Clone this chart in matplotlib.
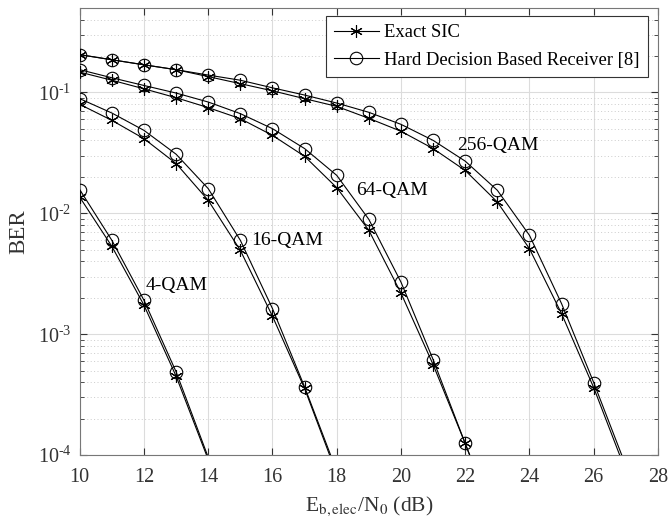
import matplotlib
matplotlib.use("Agg")
import matplotlib.pyplot as plt
import numpy as np
from matplotlib.lines import Line2D
from matplotlib.ticker import FuncFormatter, LogLocator, NullFormatter

plt.rcParams["font.family"] = ["Liberation Serif", "DejaVu Serif"]
plt.rcParams["mathtext.fontset"] = "stix"

# Eb,elec/N0 in dB for each modulation order
snr_4 = np.arange(10, 15)
snr_16 = np.arange(10, 19)
snr_64 = np.arange(10, 24)
snr_256 = np.arange(10, 28)

# BER, exact SIC
ber_sic_4 = [0.0136, 0.00533, 0.00174, 0.00045, 9.2e-5]
ber_sic_16 = [0.0796, 0.0587, 0.0414, 0.0258, 0.0128, 0.00494, 0.00141,
              3.56e-4, 7.0e-5]
ber_sic_64 = [0.147, 0.126, 0.107, 0.0903, 0.0748, 0.0606, 0.0441, 0.0296,
              0.0163, 0.00724, 0.00219, 5.62e-4, 1.25e-4, 2.5e-5]
ber_sic_256 = [0.205, 0.186, 0.169, 0.154, 0.135, 0.118, 0.103, 0.0887,
               0.0766, 0.061, 0.0477, 0.0343, 0.0226, 0.0124, 0.0051,
               0.00148, 3.62e-4, 7.4e-5]

# BER, hard decision based receiver [8]
ber_hd_4 = [0.0157, 0.00598, 0.00191, 0.000489, 9.6e-5]
ber_hd_16 = [0.0887, 0.0675, 0.0485, 0.0308, 0.016, 0.00598, 0.00163,
             3.67e-4, 7.4e-5]
ber_hd_64 = [0.154, 0.132, 0.114, 0.0987, 0.0832, 0.0667, 0.0501, 0.0343,
             0.0206, 0.00891, 0.0027, 6.18e-4, 1.25e-4, 2.6e-5]
ber_hd_256 = [0.205, 0.186, 0.169, 0.154, 0.139, 0.126, 0.109, 0.095,
              0.0816, 0.0684, 0.0544, 0.0401, 0.027, 0.0155, 0.00658,
              0.00179, 3.99e-4, 8.2e-5]

labels = ["4-QAM", "16-QAM", "64-QAM", "256-QAM"]
label_x = [12.05, 15.35, 18.6, 21.75]
label_y = [2.55e-3, 6.0e-3, 0.0155, 0.0365]

YMIN, YMAX = 1e-4, 0.5
INK = "#333333"

fig = plt.figure(figsize=(6.7, 5.22), dpi=100)
ax = fig.add_axes([0.119, 0.128, 0.863, 0.857])

curves = [
    (snr_4, ber_sic_4, ber_hd_4),
    (snr_16, ber_sic_16, ber_hd_16),
    (snr_64, ber_sic_64, ber_hd_64),
    (snr_256, ber_sic_256, ber_hd_256),
]
asterisk = (6, 2, 0)
for x, sic, hd in curves:
    for y, mk in ((sic, asterisk), (hd, "o")):
        y = np.asarray(y)
        ax.plot(x, y, color="black", lw=0.8, zorder=3)
        # markers only where the point lies inside the axes
        keep = y >= YMIN
        ax.plot(x[keep], y[keep], ls="none", marker=mk, ms=9,
                mfc="none", mec="black", mew=0.8, zorder=4)

for txt, lx, ly in zip(labels, label_x, label_y):
    ax.text(lx, ly, txt, fontsize=14, ha="left", va="center", color="black",
            zorder=5)

ax.set_yscale("log")
ax.set_xlim(10, 28)
ax.set_ylim(YMIN, YMAX)
ax.set_xticks(np.arange(10, 29, 2))
ax.yaxis.set_major_locator(LogLocator(base=10, numticks=10))
ax.yaxis.set_minor_locator(LogLocator(base=10, subs=np.arange(2, 10), numticks=20))
ax.yaxis.set_minor_formatter(NullFormatter())
ax.yaxis.set_major_formatter(FuncFormatter(
    lambda v, pos: r"$\mathregular{10^{\text{-}%d}}$" % round(-np.log10(v))))

ax.grid(True, which="major", color="#dcdcdc", lw=0.8, ls="-")
ax.grid(True, which="minor", axis="y", color="#cccccc", lw=0.7, ls=(0, (1, 2.5)))
ax.set_axisbelow(True)

ax.tick_params(which="both", direction="in", top=True, right=True,
               colors=INK, labelsize=14.5)
ax.tick_params(which="major", length=5)
ax.tick_params(which="minor", length=3)
ax.tick_params(axis="x", pad=9)
ax.tick_params(axis="y", pad=6)
for sp in ax.spines.values():
    sp.set_color("#777777")
    sp.set_linewidth(0.8)

ax.set_xlabel(r"E$_{\mathrm{b,elec}}$/N$_0$ (dB)", fontsize=15.5, color=INK,
              labelpad=6)
ax.set_ylabel("BER", fontsize=16.5, color=INK, labelpad=6)

handles = [
    Line2D([], [], color="black", lw=0.8, marker=asterisk, ms=9, mfc="none",
           mec="black", mew=0.8),
    Line2D([], [], color="black", lw=0.8, marker="o", ms=9, mfc="none",
           mec="black", mew=0.8),
]
leg = ax.legend(handles, ["Exact SIC", "Hard Decision Based Receiver [8]"],
                loc="upper right", bbox_to_anchor=(0.983, 0.982),
                fontsize=13.4, fancybox=False, framealpha=1, edgecolor="#333333",
                handlelength=2.4, borderpad=0.45, labelspacing=0.55,
                handletextpad=0.3, borderaxespad=0)
leg.get_frame().set_linewidth(0.8)

fig.savefig("out.png", dpi=100)
